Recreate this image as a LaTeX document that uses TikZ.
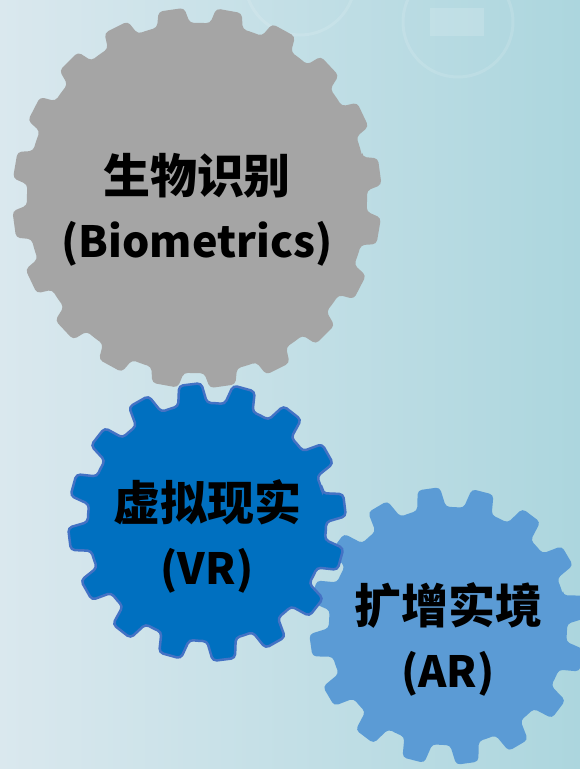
\documentclass[tikz,border=0pt]{standalone}
\usepackage{fontspec}
\setmainfont{Noto Sans CJK SC}
\definecolor{bgA}{RGB}{218,232,238}
\definecolor{bgB}{RGB}{172,214,222}
\definecolor{gearGray}{RGB}{165,165,165}
\definecolor{gearVR}{RGB}{0,112,192}
\definecolor{gearVRline}{RGB}{68,114,196}
\definecolor{gearAR}{RGB}{91,155,213}
\newcommand\drawgear[9]{%
  \pgfmathsetmacro\gpitch{360/#4}%
  \path[shift={(#2,#3)},#1] ({#5-#8}:#6)
    \foreach \k in {1,...,#4}{
      -- ({#5+(\k-1)*\gpitch-#9}:#7) -- ({#5+(\k-1)*\gpitch+#9}:#7)
      -- ({#5+(\k-1)*\gpitch+#8}:#6)
      arc[start angle={#5+(\k-1)*\gpitch+#8}, end angle={#5+\k*\gpitch-#8}, radius=#6]
    } -- cycle;%
}
\tikzset{
  graygear/.style={fill=gearGray, rounded corners=4pt, yscale=1.03},
  vrgear/.style={fill=gearVR, draw=gearVRline, line width=2.5pt, rounded corners=4pt},
  argear/.style={fill=gearAR, rounded corners=4pt},
  lbl/.style={align=center, text=black, font=\fontsize{45}{62}\selectfont\bfseries},
  wmark/.style={draw=white, opacity=0.12, line width=3pt}
}
\newcommand\cjkline{\fontsize{47}{62}\selectfont}
\newcommand\latline{\fontsize{43}{62}\selectfont}
\begin{document}
\begin{tikzpicture}[x=1pt,y=-1pt]
\useasboundingbox (0,0) rectangle (580,769);
\shade[left color=bgA, right color=bgB] (0,0) rectangle (580,769);
% faint watermarks
\draw[wmark] (300,-20) circle[radius=55];
\draw[wmark] (458,22) circle[radius=55];
\fill[white, opacity=0.15] (430,8) rectangle (484,36);
% gears
\drawgear{graygear}{197}{198}{20}{-8}{170}{185}{5.6}{4.0}
\drawgear{argear}{448}{626}{16}{-8}{119}{139}{7.0}{4.6}
\drawgear{vrgear}{207}{522}{16}{-7}{119}{139}{7.0}{4.6}
% labels
\node[lbl] (bio) at (197,210) {{\cjkline 生物识别}\\[2pt]{\latline (Biometrics)}};
\node[lbl] (vr) at (207,536) {{\cjkline 虚拟现实}\\[2pt]{\latline (VR)}};
\node[lbl] (ar) at (448,639) {{\cjkline 扩增实境}\\[2pt]{\latline (AR)}};
\end{tikzpicture}
\end{document}
